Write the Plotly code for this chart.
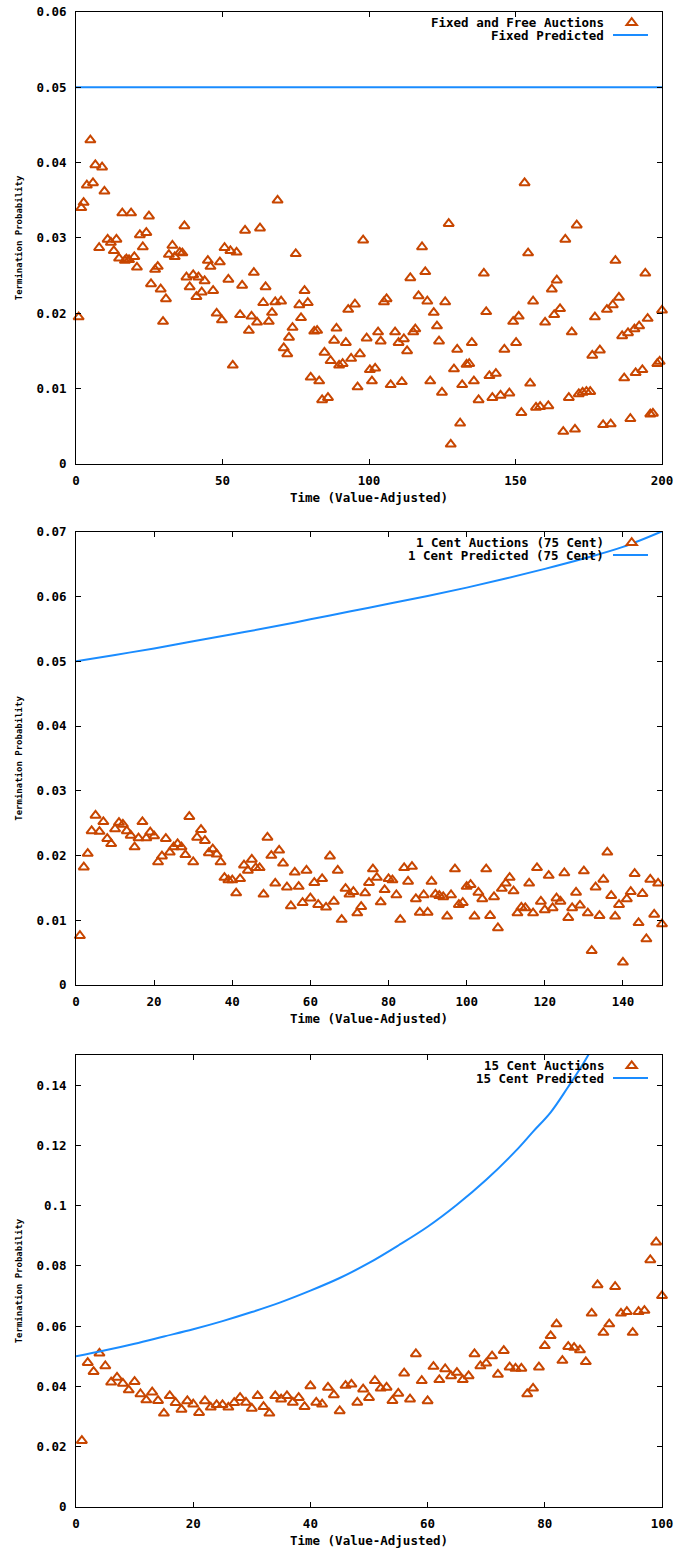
import plotly.graph_objects as go

# ---------------- data ----------------
# Panel 1: Fixed and Free Auctions
p1_x = [0.9, 1.8, 2.6, 3.7, 4.9, 5.8, 6.6, 7.9, 8.9, 9.7, 10.8, 11.9, 12.9, 13.8, 14.7, 15.8, 16.7, 17.2, 18.1, 18.8,
        19.9, 20.8, 21.8, 22.8, 24.0, 24.9, 25.6, 27.0, 27.9, 28.9, 29.7, 30.7, 31.7, 32.9, 33.7, 35.4, 36.3, 37.0, 37.7, 38.8,
        40.0, 41.1, 41.8, 42.9, 43.9, 45.0, 45.9, 46.8, 48.0, 49.1, 49.8, 50.7, 52.0, 52.7, 53.5, 54.8, 56.0, 56.7, 57.7, 59.0,
        59.9, 60.7, 61.8, 62.8, 63.9, 64.7, 65.8, 66.9, 68.0, 68.8, 70.0, 70.9, 72.1, 72.7, 73.9, 75.0, 76.2, 76.8, 78.0, 79.1,
        80.1, 81.3, 82.3, 83.0, 84.0, 84.8, 86.0, 86.9, 88.1, 88.9, 89.8, 91.0, 92.1, 92.9, 93.9, 95.2, 96.1, 96.9, 98.0, 99.2,
        100.3, 101.0, 102.1, 103.1, 104.0, 105.1, 106.0, 107.4, 108.9, 110.1, 111.2, 111.9, 113.0, 114.1, 115.1, 115.8, 116.9, 118.1, 119.2, 119.9,
        120.9, 122.1, 123.2, 123.9, 124.9, 126.0, 127.2, 127.9, 129.0, 130.1, 131.1, 131.8, 133.3, 134.2, 135.1, 135.8, 137.4, 139.2, 140.0, 141.1,
        142.1, 143.3, 144.9, 146.2, 147.9, 149.2, 150.2, 151.1, 152.0, 153.1, 154.3, 155.0, 156.0, 157.0, 158.4, 160.1, 161.2, 162.4, 163.2, 164.1,
        165.2, 166.3, 167.0, 168.2, 169.2, 170.3, 170.9, 171.6, 172.9, 174.2, 175.5, 176.2, 177.1, 178.8, 179.9, 181.2, 182.5, 183.2, 184.1, 185.3,
        186.4, 187.1, 188.4, 189.2, 190.6, 191.0, 192.2, 193.3, 194.3, 195.1, 196.0, 196.9, 198.4, 199.2, 200.0]
p1_y = [0.0195, 0.0340, 0.0347, 0.0370, 0.0430, 0.0373, 0.0397, 0.0287, 0.0394, 0.0362, 0.0298, 0.0294, 0.0283, 0.0298, 0.0273, 0.0333, 0.0270, 0.0272, 0.0271, 0.0333,
        0.0275, 0.0261, 0.0304, 0.0288, 0.0307, 0.0329, 0.0239, 0.0258, 0.0262, 0.0232, 0.0189, 0.0219, 0.0278, 0.0290, 0.0275, 0.0281, 0.0280, 0.0316, 0.0248, 0.0235,
        0.0251, 0.0222, 0.0248, 0.0228, 0.0243, 0.0270, 0.0262, 0.0230, 0.0200, 0.0268, 0.0191, 0.0287, 0.0245, 0.0283, 0.0131, 0.0281, 0.0198, 0.0237, 0.0310, 0.0177,
        0.0196, 0.0254, 0.0188, 0.0313, 0.0214, 0.0235, 0.0189, 0.0201, 0.0215, 0.0350, 0.0216, 0.0154, 0.0146, 0.0168, 0.0181, 0.0279, 0.0211, 0.0194, 0.0230, 0.0214,
        0.0115, 0.0176, 0.0177, 0.0110, 0.0085, 0.0148, 0.0088, 0.0137, 0.0164, 0.0180, 0.0131, 0.0133, 0.0161, 0.0205, 0.0140, 0.0212, 0.0102, 0.0146, 0.0297, 0.0167,
        0.0125, 0.0110, 0.0127, 0.0175, 0.0163, 0.0215, 0.0219, 0.0105, 0.0175, 0.0161, 0.0109, 0.0166, 0.0150, 0.0247, 0.0175, 0.0179, 0.0223, 0.0288, 0.0255, 0.0216,
        0.0110, 0.0201, 0.0183, 0.0163, 0.0095, 0.0215, 0.0319, 0.0026, 0.0126, 0.0152, 0.0054, 0.0105, 0.0132, 0.0133, 0.0161, 0.0110, 0.0085, 0.0253, 0.0202, 0.0117,
        0.0088, 0.0120, 0.0091, 0.0152, 0.0094, 0.0189, 0.0161, 0.0196, 0.0068, 0.0373, 0.0280, 0.0107, 0.0216, 0.0075, 0.0076, 0.0188, 0.0077, 0.0232, 0.0198, 0.0244,
        0.0206, 0.0043, 0.0298, 0.0088, 0.0175, 0.0046, 0.0317, 0.0093, 0.0095, 0.0096, 0.0096, 0.0144, 0.0195, 0.0151, 0.0052, 0.0205, 0.0053, 0.0211, 0.0270, 0.0221,
        0.0170, 0.0114, 0.0174, 0.0060, 0.0179, 0.0121, 0.0183, 0.0125, 0.0253, 0.0193, 0.0066, 0.0067, 0.0133, 0.0136, 0.0204]
p1_pred_x = [0, 200]
p1_pred_y = [0.05, 0.05]

# Panel 2: 1 Cent Auctions (75 Cent)
p2_x = list(range(1, 151))
p2_y = [0.0076, 0.0182, 0.0203, 0.0238, 0.0262, 0.0237, 0.0252, 0.0226, 0.0218, 0.0241,
        0.0251, 0.0248, 0.0238, 0.0231, 0.0213, 0.0227, 0.0252, 0.0227, 0.0236, 0.0230,
        0.0190, 0.0199, 0.0226, 0.0205, 0.0213, 0.0218, 0.0213, 0.0201, 0.0260, 0.0190,
        0.0228, 0.0240, 0.0223, 0.0204, 0.0210, 0.0202, 0.0190, 0.0166, 0.0162, 0.0162,
        0.0142, 0.0164, 0.0185, 0.0177, 0.0194, 0.0181, 0.0181, 0.0140, 0.0228, 0.0200,
        0.0157, 0.0208, 0.0188, 0.0151, 0.0122, 0.0174, 0.0152, 0.0127, 0.0177, 0.0134,
        0.0158, 0.0124, 0.0164, 0.0120, 0.0199, 0.0129, 0.0177, 0.0101, 0.0149, 0.0140,
        0.0144, 0.0111, 0.0121, 0.0142, 0.0158, 0.0179, 0.0166, 0.0128, 0.0147, 0.0164,
        0.0162, 0.0139, 0.0101, 0.0181, 0.0160, 0.0183, 0.0133, 0.0112, 0.0139, 0.0112,
        0.0160, 0.0140, 0.0138, 0.0136, 0.0106, 0.0139, 0.0179, 0.0124, 0.0127, 0.0152,
        0.0155, 0.0106, 0.0143, 0.0133, 0.0179, 0.0107, 0.0136, 0.0088, 0.0149, 0.0157,
        0.0166, 0.0145, 0.0111, 0.0120, 0.0119, 0.0157, 0.0111, 0.0181, 0.0129, 0.0116,
        0.0169, 0.0119, 0.0134, 0.0129, 0.0173, 0.0104, 0.0119, 0.0143, 0.0123, 0.0176,
        0.0111, 0.0053, 0.0151, 0.0107, 0.0163, 0.0205, 0.0138, 0.0106, 0.0124, 0.0035,
        0.0133, 0.0144, 0.0172, 0.0096, 0.0141, 0.0071, 0.0163, 0.0109, 0.0157, 0.0094]
p2_pred_x = [0, 10, 20, 30, 40, 50, 60, 70, 80, 90, 100, 110, 120, 130, 140, 150]
p2_pred_y = [0.0500, 0.0510, 0.0520, 0.0531, 0.0542, 0.0553, 0.0565, 0.0577, 0.0589, 0.0601,
             0.0614, 0.0628, 0.0643, 0.0659, 0.0677, 0.0701]

# Panel 3: 15 Cent Auctions
p3_x = list(range(1, 101))
p3_y = [0.0220, 0.0479, 0.0449, 0.0510, 0.0468, 0.0414, 0.0430, 0.0410, 0.0388, 0.0416,
        0.0375, 0.0355, 0.0381, 0.0353, 0.0311, 0.0369, 0.0346, 0.0324, 0.0352, 0.0341,
        0.0313, 0.0352, 0.0331, 0.0339, 0.0339, 0.0331, 0.0346, 0.0363, 0.0347, 0.0327,
        0.0369, 0.0333, 0.0311, 0.0369, 0.0358, 0.0369, 0.0347, 0.0363, 0.0333, 0.0402,
        0.0347, 0.0341, 0.0397, 0.0372, 0.0319, 0.0403, 0.0407, 0.0347, 0.0391, 0.0363,
        0.0419, 0.0394, 0.0397, 0.0353, 0.0377, 0.0444, 0.0358, 0.0508, 0.0419, 0.0352,
        0.0466, 0.0422, 0.0458, 0.0435, 0.0446, 0.0422, 0.0435, 0.0508, 0.0468, 0.0477,
        0.0501, 0.0440, 0.0519, 0.0464, 0.0460, 0.0460, 0.0375, 0.0394, 0.0464, 0.0535,
        0.0568, 0.0607, 0.0486, 0.0532, 0.0529, 0.0521, 0.0482, 0.0643, 0.0737, 0.0579,
        0.0607, 0.0731, 0.0643, 0.0648, 0.0579, 0.0648, 0.0652, 0.0820, 0.0879, 0.0701]
p3_pred_x = [0, 5, 10, 15, 20, 25, 30, 35, 40, 45, 50, 55, 60, 65, 70, 75, 78, 81, 84, 86.6, 88]
p3_pred_y = [0.0500, 0.0520, 0.0542, 0.0566, 0.0590, 0.0617, 0.0647, 0.0680, 0.0718, 0.0760,
             0.0810, 0.0868, 0.0930, 0.1003, 0.1086, 0.1181, 0.1246, 0.1310, 0.1395, 0.1473, 0.1520]

names1 = ["Fixed and Free Auctions", "Fixed Predicted"]
names2 = ["1 Cent Auctions (75 Cent)", "1 Cent Predicted (75 Cent)"]
names3 = ["15 Cent Auctions", "15 Cent Predicted"]

x_ranges = [[0, 200], [0, 150], [0, 100]]
x_dticks = [50, 20, 20]
y_ranges = [[0, 0.06], [0, 0.07], [0, 0.15]]
y_dticks = [0.01, 0.01, 0.02]

# ---------------- style ----------------
FONT = "DejaVu Sans Mono"
ORANGE = "#C84600"
BLUE = "#1A8CFF"
W, H = 679, 1553
ML, MR, MT, MB = 76, 17, 12, 46
domains = [[0.6977, 1.0], [0.3492, 0.6522], [0.0, 0.3023]]

panels = [
    (p1_x, p1_y, p1_pred_x, p1_pred_y, names1),
    (p2_x, p2_y, p2_pred_x, p2_pred_y, names2),
    (p3_x, p3_y, p3_pred_x, p3_pred_y, names3),
]

fig = go.Figure()
layout = dict(
    width=W, height=H,
    margin=dict(l=ML, r=MR, t=MT, b=MB, autoexpand=False),
    paper_bgcolor="white", plot_bgcolor="white",
    showlegend=False, hovermode=False,
    font=dict(family=FONT, size=12.5, color="black", weight="bold"),
)
annotations = []
shapes = []

for i, (xs, ys, pxs, pys, names) in enumerate(panels):
    n = i + 1
    xa = "x" if n == 1 else f"x{n}"
    ya = "y" if n == 1 else f"y{n}"
    fig.add_trace(go.Scatter(
        x=xs, y=ys, mode="markers", name=names[0], xaxis=xa, yaxis=ya,
        marker=dict(symbol="triangle-up-open", size=9, color=ORANGE, line=dict(width=2, color=ORANGE)),
        cliponaxis=False,
    ))
    fig.add_trace(go.Scatter(
        x=pxs, y=pys, mode="lines", name=names[1], xaxis=xa, yaxis=ya,
        line=dict(color=BLUE, width=2, shape="spline", smoothing=1.0), cliponaxis=True,
    ))
    axis_common = dict(
        showline=True, linecolor="black", linewidth=1, mirror="ticks",
        ticks="inside", ticklen=5, tickcolor="black", tickwidth=1,
        showgrid=False, zeroline=False, automargin=False, ticklabeloverflow="allow",
        tickfont=dict(family=FONT, size=12.5, color="black", weight="bold"),
    )
    layout["xaxis" if n == 1 else f"xaxis{n}"] = dict(
        domain=[0, 1], anchor=ya, range=x_ranges[i], tick0=0, dtick=x_dticks[i],
        ticklabelstandoff=5,
        title=dict(text="Time (Value-Adjusted)", standoff=6,
                   font=dict(family=FONT, size=12.5, color="black", weight="bold")),
        **axis_common,
    )
    layout["yaxis" if n == 1 else f"yaxis{n}"] = dict(
        domain=domains[i], anchor=xa, range=y_ranges[i], tick0=0, dtick=y_dticks[i],
        ticklabelstandoff=6,
        title=dict(text="Termination Probability", standoff=12,
                   font=dict(family=FONT, size=9, color="black", weight="bold")),
        **axis_common,
    )

    # gnuplot-style key: right-justified text with the sample on its right
    d0, d1 = domains[i]
    def py(frac):
        return d0 + frac * (d1 - d0)
    r1, r2 = 0.9763, 0.9491
    for txt, fy in ((names[0], r1), (names[1], r2)):
        annotations.append(dict(
            text=txt, x=0.9045, y=py(fy), xref="paper", yref="paper",
            xanchor="right", yanchor="middle", showarrow=False,
            font=dict(family=FONT, size=12.5, color="black", weight="bold"),
        ))
    plot_w = W - ML - MR
    cx, cy = 0.9483, py(r1)
    dx = 5.2 / plot_w
    dyd = 2.25 / (H - MT - MB)
    dyu = 4.5 / (H - MT - MB)
    shapes.append(dict(
        type="path", xref="paper", yref="paper",
        path=f"M {cx-dx},{cy-dyd} L {cx+dx},{cy-dyd} L {cx},{cy+dyu} Z",
        line=dict(color=ORANGE, width=2), fillcolor="white",
    ))
    shapes.append(dict(
        type="line", xref="paper", yref="paper",
        x0=0.9164, x1=0.9761, y0=py(r2), y1=py(r2),
        line=dict(color=BLUE, width=2),
    ))

layout["annotations"] = annotations
layout["shapes"] = shapes
fig.update_layout(**layout)
# remove the browser's default 8px body margin so the figure sits at the page origin
fig.write_html("out.html", config={"displayModeBar": False, "staticPlot": True},
               post_script="document.body.style.margin='0';")
